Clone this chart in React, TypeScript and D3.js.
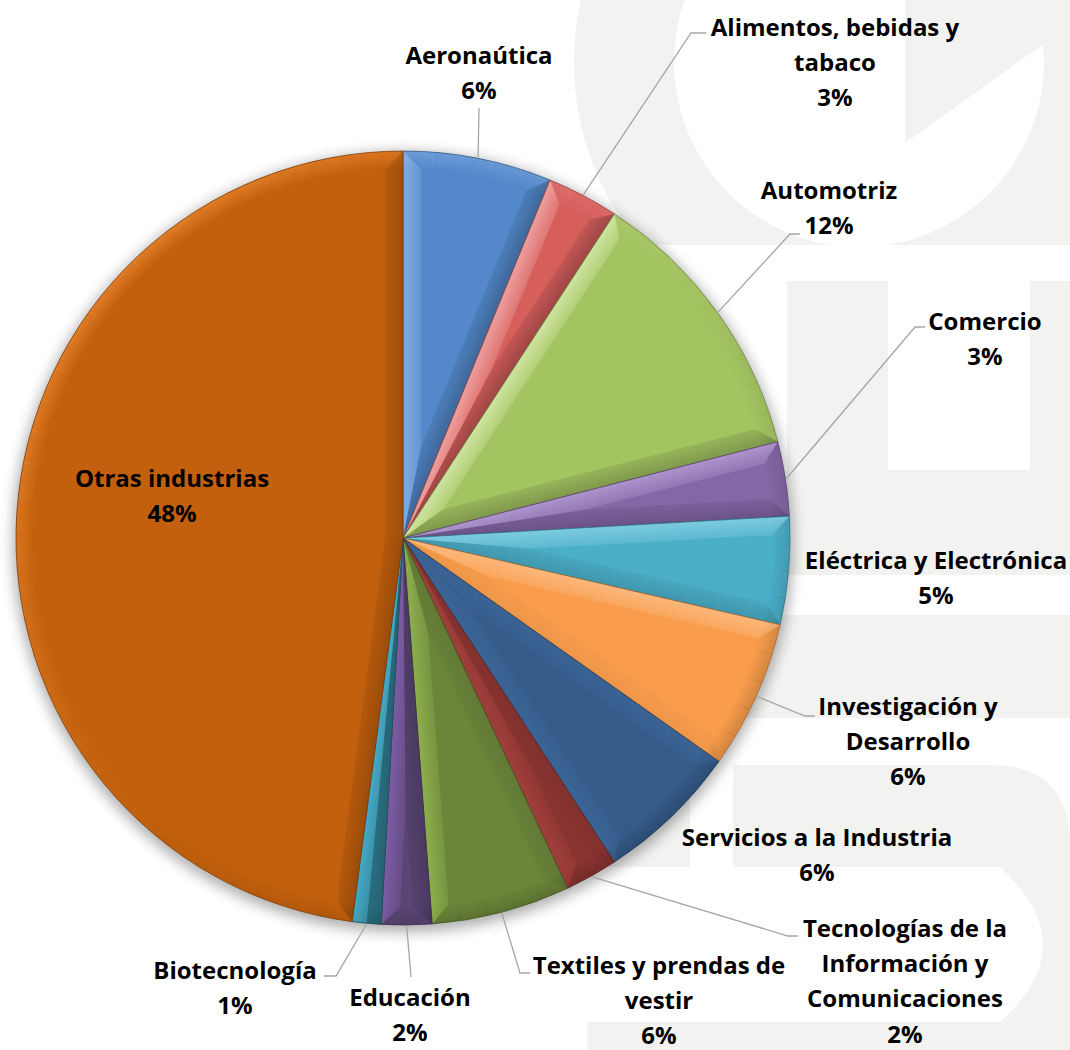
import React from 'react';
import * as d3 from 'd3';

// ---------- data ----------
const categories = [
  'Aeronaútica',
  'Alimentos, bebidas y tabaco',
  'Automotriz',
  'Comercio',
  'Eléctrica y Electrónica',
  'Investigación y Desarrollo',
  'Servicios a la Industria',
  'Tecnologías de la Información y Comunicaciones',
  'Textiles y prendas de vestir',
  'Educación',
  'Biotecnología',
  'Otras industrias',
];
const shares = [6.2, 3.0, 11.8, 3.1, 4.5, 6.2, 6.0, 2.2, 5.8, 2.1, 1.2, 47.9];
const labelLines = [
  ['Aeronaútica'],
  ['Alimentos, bebidas y', 'tabaco'],
  ['Automotriz'],
  ['Comercio'],
  ['Eléctrica y Electrónica'],
  ['Investigación y', 'Desarrollo'],
  ['Servicios a la Industria'],
  ['Tecnologías de la', 'Información y', 'Comunicaciones'],
  ['Textiles y prendas de', 'vestir'],
  ['Educación'],
  ['Biotecnología'],
  ['Otras industrias'],
];
const sliceColors = [
  '#5389cb', '#d65f5c', '#a4c462', '#8467a6', '#4bafc9', '#f99d4c',
  '#355b89', '#8a3431', '#6b8539', '#5a4575', '#2e7b8f', '#c2600d',
];

// ---------- layout ----------
const W = 1070, H = 1050, CX = 403, CY = 538, R = 387, BEVEL = 18, LINE_H = 35.4;
const FONT_SIZE = 24, BASE_OFF = 8.5;
// label block: centre x, centre y of first line
const labelPos: [number, number][] = [
  [479, 55], [835, 27], [829, 190], [985, 321], [936, 560], [908, 706],
  [817, 837], [905, 928], [659, 965], [410, 997], [235, 970], [172, 478],
];
// leader elbow (x, y) and horizontal tail length (signed), null = no leader
const leaders: ([number, number, number] | null)[] = [
  [479, 108, 0], [691, 33, 15], [790, 234, 10], [915, 327, 10], null, [805, 716, 10],
  null, [788, 936, 10], [520, 973, 10], [411, 977, 0], [336, 976, -12], null,
];

const pt = (a: number, r: number): [number, number] => [r * Math.sin(a), -r * Math.cos(a)];
const LIGHT: [number, number] = [-Math.SQRT1_2, -Math.SQRT1_2];
const RIM_STEP = Math.PI / 36;

function tone(base: string, b: number) {
  if (b > 0) {
    const hsl = d3.hsl(base);
    hsl.l = Math.min(0.92, hsl.l + 0.22);
    hsl.s = Math.min(1, hsl.s + 0.15);
    return { c: hsl.formatHex(), o: 0.85 * b };
  }
  return { c: '#000000', o: 0.26 * -b };
}

export default function App() {
  const pie = d3.pie<number>().sort(null).value(d => d).startAngle(0).endAngle(2 * Math.PI);
  const arcs = pie(shares);
  const arcGen = d3.arc<d3.PieArcDatum<number>>().innerRadius(0).outerRadius(R);
  const rimGen = d3.arc<{ startAngle: number; endAngle: number }>().innerRadius(R - BEVEL).outerRadius(R);
  const line = d3.line();

  const gradients: JSX.Element[] = [];
  const slices = arcs.map((a, i) => {
    const a0 = a.startAngle, a1 = a.endAngle;
    const h = (a1 - a0) / 2, am = (a0 + a1) / 2;
    const n0: [number, number] = [-Math.cos(a0), -Math.sin(a0)];
    const n1: [number, number] = [Math.cos(a1), Math.sin(a1)];
    const b0 = n0[0] * LIGHT[0] + n0[1] * LIGHT[1];
    const b1 = n1[0] * LIGHT[0] + n1[1] * LIGHT[1];
    const apexD = BEVEL / Math.sin(h);
    const delta = Math.asin(BEVEL / (R - BEVEL));
    const O0 = pt(a0, R), O1 = pt(a1, R);
    let startF: [number, number][], endF: [number, number][];
    if (delta < h && apexD < R - BEVEL) {
      const iS = pt(a0 + delta, R - BEVEL), iE = pt(a1 - delta, R - BEVEL), ap = pt(am, apexD);
      startF = [[0, 0], O0, iS, ap];
      endF = [[0, 0], O1, iE, ap];
    } else {
      const M = pt(am, R);
      startF = [[0, 0], O0, M];
      endF = [[0, 0], O1, M];
    }
    const t0 = tone(sliceColors[i], b0), t1 = tone(sliceColors[i], b1);
    gradients.push(
      <linearGradient key={`gs${i}`} id={`gs${i}`} gradientUnits="userSpaceOnUse"
        x1={0} y1={0} x2={-n0[0] * BEVEL} y2={-n0[1] * BEVEL}>
        <stop offset="0" stopColor={t0.c} stopOpacity={t0.o} />
        <stop offset="1" stopColor={t0.c} stopOpacity={t0.o * 0.35} />
      </linearGradient>,
      <linearGradient key={`ge${i}`} id={`ge${i}`} gradientUnits="userSpaceOnUse"
        x1={0} y1={0} x2={-n1[0] * BEVEL} y2={-n1[1] * BEVEL}>
        <stop offset="0" stopColor={t1.c} stopOpacity={t1.o} />
        <stop offset="1" stopColor={t1.c} stopOpacity={t1.o * 0.35} />
      </linearGradient>,
    );
    // rim pieces
    const rims: JSX.Element[] = [];
    const n = Math.max(1, Math.ceil((a1 - a0) / RIM_STEP));
    for (let k = 0; k < n; k++) {
      const s = a0 + ((a1 - a0) * k) / n, e = a0 + ((a1 - a0) * (k + 1)) / n;
      const m = (s + e) / 2;
      const b = Math.sin(m) * LIGHT[0] - Math.cos(m) * LIGHT[1];
      const t = tone(sliceColors[i], b);
      rims.push(
        <path key={k} d={rimGen({ startAngle: s, endAngle: e + 0.002 }) || ''}
          fill={t.c} fillOpacity={t.o * 0.6} mask="url(#rimMask)" />,
      );
    }
    const base = d3.color(sliceColors[i])!;
    return (
      <g key={i}>
        <path d={arcGen(a) || ''} fill={sliceColors[i]} />
        <g clipPath={`url(#clip${i})`}>
          {rims}
          <path d={(line(startF) || '') + 'Z'} fill={`url(#gs${i})`} />
          <path d={(line(endF) || '') + 'Z'} fill={`url(#ge${i})`} />
        </g>
        <path d={arcGen(a) || ''} fill="none" stroke={base.darker(1.3).formatHex()} strokeWidth={1} strokeOpacity={0.75} />
      </g>
    );
  });

  return (
    <svg width={W} height={H} style={{ position: 'absolute', left: 0, top: 0, background: '#fff' }}
      fontFamily="'Open Sans', 'Noto Sans', sans-serif">
      <defs>
        <filter id="shadow" x="-20%" y="-20%" width="140%" height="140%">
          <feGaussianBlur stdDeviation="7" />
        </filter>
        <radialGradient id="rimFade" gradientUnits="userSpaceOnUse" cx={0} cy={0} r={R}>
          <stop offset={(R - BEVEL) / R} stopColor="#fff" stopOpacity={0} />
          <stop offset="1" stopColor="#fff" stopOpacity={1} />
        </radialGradient>
        <mask id="rimMask" maskUnits="userSpaceOnUse" x={-R - 5} y={-R - 5} width={2 * R + 10} height={2 * R + 10}>
          <circle cx={0} cy={0} r={R} fill="url(#rimFade)" />
        </mask>
        <clipPath id="wmTop"><rect x={0} y={0} width={W} height={245} /></clipPath>
        {arcs.map((a, i) => (
          <clipPath id={`clip${i}`} key={i}><path d={arcGen(a) || ''} /></clipPath>
        ))}
        {gradients}
      </defs>

      {/* watermark */}
      <g fill="#f2f2f1">
        <path clipPath="url(#wmTop)" fillRule="evenodd"
          d={`M${859 - 285},62 a285,285 0 1,0 570,0 a285,285 0 1,0 -570,0 Z M${859 - 185},62 a185,185 0 1,0 370,0 a185,185 0 1,0 -370,0 Z`} />
        <path d="M905,0 L1070,0 L1070,25 L905,143 Z" />
        <path fillRule="evenodd" d="M787,281 H1070 V575 H787 Z M888,281 H1030 V470 H888 Z" />
        <rect x={733} y={615} width={337} height={103} />
        <rect x={560} y={765} width={130} height={102} />
        <path d="M733,765 H990 Q1070,765 1070,845 V1050 H587 V1022 H1000 Q1086,945 1000,867 H733 Z" />
      </g>

      <g transform={`translate(${CX},${CY})`}>
        <circle cx={0} cy={4} r={R + 3} fill="#000" opacity={0.32} filter="url(#shadow)" />
        {slices}
      </g>

      {/* leader lines */}
      <g stroke="#a6a6a6" strokeWidth={1.3} fill="none">
        {arcs.map((a, i) => {
          const L = leaders[i];
          if (!L) return null;
          const am = (a.startAngle + a.endAngle) / 2;
          const s = pt(am, R + 1);
          const pts: [number, number][] = [[CX + s[0], CY + s[1]], [L[0], L[1]]];
          if (L[2] !== 0) pts.push([L[0] + L[2], L[1]]);
          return <path key={i} d={line(pts) || ''} />;
        })}
      </g>

      {/* labels */}
      <g fontWeight="bold" fontSize={FONT_SIZE} fill="#000" textAnchor="middle">
        {categories.map((c, i) => {
          const lines = [...labelLines[i], `${Math.round(shares[i])}%`];
          const [x, y] = labelPos[i];
          return (
            <text key={c} x={x} y={y + BASE_OFF}>
              {lines.map((t, j) => (
                <tspan key={j} x={x} y={y + BASE_OFF + j * LINE_H}>{t}</tspan>
              ))}
            </text>
          );
        })}
      </g>
    </svg>
  );
}
